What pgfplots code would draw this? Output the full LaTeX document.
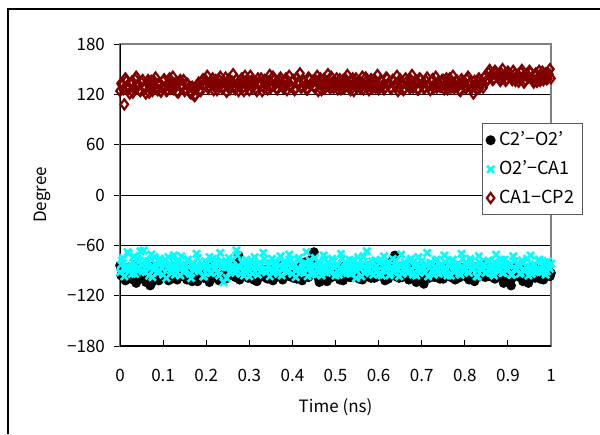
\documentclass[border=0pt]{standalone}
\usepackage{fontspec}
\setmainfont{Noto Sans CJK JP}
\usepackage{pgfplots}
\usepackage{pgfplotstable}
\pgfplotsset{compat=1.18}
\definecolor{darkred}{RGB}{128,0,0}
\definecolor{aqua}{RGB}{0,255,255}

% t = time (ns); a = C2'-O2', b = O2'-CA1, c = CA1-CP2 (degree)
\pgfplotstableread{
t a b c
0.000 -84 -92 124
0.005 -93 -78 131
0.010 -88 -97 108
0.015 -97 -85 136
0.020 -86 -70 127
0.025 -91 -89 133
0.030 -101 -81 122
0.035 -83 -94 138
0.040 -95 -76 129
0.045 -89 -88 125
0.050 -99 -83 134
0.055 -87 -66 128
0.060 -104 -92 121
0.065 -92 -79 137
0.070 -108 -87 130
0.075 -85 -98 124
0.080 -96 -74 135
0.085 -90 -86 127
0.090 -102 -91 132
0.095 -88 -80 123
0.100 -94 -95 136
0.105 -84 -77 129
0.110 -97 -88 125
0.115 -91 -83 139
0.120 -100 -93 131
0.125 -86 -72 126
0.130 -93 -87 134
0.135 -98 -81 122
0.140 -89 -96 137
0.145 -95 -84 130
0.150 -87 -90 124
0.155 -101 -78 133
0.160 -92 -86 128
0.165 -85 -99 121
0.170 -96 -82 126
0.175 -90 -89 119
0.180 -103 -75 131
0.185 -88 -91 125
0.190 -94 -84 135
0.195 -99 -97 129
0.200 -86 -80 136
0.205 -92 -87 127
0.210 -97 -93 133
0.215 -84 -76 139
0.220 -95 -89 130
0.225 -90 -83 125
0.230 -102 -96 137
0.235 -88 -79 132
0.240 -93 -104 128
0.245 -100 -86 140
0.250 -87 -81 131
0.255 -95 -92 126
0.260 -83 -77 135
0.265 -91 -88 129
0.270 -79 -66 138
0.275 -72 -85 124
0.280 -98 -94 133
0.285 -89 -80 128
0.290 -94 -90 142
0.295 -86 -83 130
0.300 -97 -97 125
0.305 -90 -78 136
0.310 -101 -87 131
0.315 -85 -82 127
0.320 -93 -95 139
0.325 -88 -84 133
0.330 -96 -89 124
0.335 -91 -76 137
0.340 -99 -92 130
0.345 -87 -85 135
0.350 -94 -81 128
0.355 -102 -93 141
0.360 -89 -79 132
0.365 -95 -88 126
0.370 -84 -84 137
0.375 -92 -96 131
0.380 -98 -80 127
0.385 -90 -87 139
0.390 -86 -91 133
0.395 -96 -77 129
0.400 -93 -94 136
0.405 -88 -83 125
0.410 -100 -89 140
0.415 -91 -75 132
0.420 -85 -92 128
0.425 -97 -86 137
0.430 -80 -81 131
0.435 -94 -97 126
0.440 -89 -78 138
0.445 -76 -88 133
0.450 -68 -84 129
0.455 -92 -95 136
0.460 -99 -80 124
0.465 -87 -90 139
0.470 -95 -85 131
0.475 -90 -77 127
0.480 -103 -93 135
0.485 -86 -82 130
0.490 -93 -89 141
0.495 -97 -79 128
0.500 -88 -96 134
0.505 -94 -84 126
0.510 -101 -88 138
0.515 -90 -76 132
0.520 -85 -92 127
0.525 -96 -81 137
0.530 -91 -87 130
0.535 -98 -94 125
0.540 -87 -78 139
0.545 -93 -86 133
0.550 -89 -91 128
0.555 -100 -83 136
0.560 -86 -97 131
0.565 -95 -73 126
0.570 -92 -89 140
0.575 -97 -82 129
0.580 -84 -93 135
0.585 -90 -79 127
0.590 -99 -88 138
0.595 -93 -85 132
0.600 -87 -95 126
0.605 -96 -77 137
0.610 -91 -90 131
0.615 -102 -84 128
0.620 -88 -81 139
0.625 -94 -96 133
0.630 -82 -86 127
0.635 -75 -92 136
0.640 -97 -78 130
0.645 -90 -89 124
0.650 -85 -83 138
0.655 -98 -94 132
0.660 -92 -80 127
0.665 -89 -87 135
0.670 -101 -91 130
0.675 -86 -76 137
0.680 -95 -95 128
0.685 -91 -85 133
0.690 -99 -82 126
0.695 -87 -93 139
0.700 -94 -79 131
0.705 -106 -88 127
0.710 -89 -84 136
0.715 -96 -97 130
0.720 -85 -81 125
0.725 -92 -90 138
0.730 -98 -86 132
0.735 -90 -77 128
0.740 -87 -94 134
0.745 -95 -83 129
0.750 -100 -89 137
0.755 -88 -80 131
0.760 -93 -96 126
0.765 -86 -85 139
0.770 -97 -78 133
0.775 -91 -92 127
0.780 -84 -87 136
0.785 -99 -82 130
0.790 -92 -95 124
0.795 -89 -76 135
0.800 -96 -90 129
0.805 -87 -84 138
0.810 -101 -93 132
0.815 -90 -79 127
0.820 -94 -88 121
0.825 -86 -85 131
0.830 -98 -97 136
0.835 -91 -81 128
0.840 -88 -89 134
0.845 -95 -83 140
0.850 -83 -92 135
0.855 -97 -78 146
0.860 -90 -87 141
0.865 -93 -94 137
0.870 -100 -80 148
0.875 -87 -86 143
0.880 -94 -91 138
0.885 -91 -77 145
0.890 -105 -93 140
0.895 -86 -84 136
0.900 -96 -89 147
0.905 -89 -82 142
0.910 -99 -95 137
0.915 -92 -79 144
0.920 -85 -88 139
0.925 -97 -85 135
0.930 -90 -93 146
0.935 -103 -81 141
0.940 -88 -90 137
0.945 -94 -76 143
0.950 -91 -86 148
0.955 -98 -94 139
0.960 -86 -83 134
0.965 -95 -89 145
0.970 -89 -78 140
0.975 -100 -92 136
0.980 -92 -85 147
0.985 -87 -80 142
0.990 -96 -91 138
0.995 -90 -86 144
1.000 -93 -82 139
0.0025 -96 -83 133
0.0075 -89 -75 126
0.0125 -102 -90 139
0.0175 -91 -68 130
0.0225 -98 -86 121
0.0275 -87 -94 135
0.0325 -93 -73 128
0.0375 -105 -88 141
0.0425 -90 -80 131
0.0475 -97 -67 124
0.0525 -86 -91 137
0.0575 -94 -78 127
0.0625 -100 -85 134
0.0675 -91 -96 122
0.0725 -106 -71 136
0.0775 -95 -89 129
0.0825 -88 -82 140
0.0875 -99 -93 125
0.0925 -93 -76 133
0.0975 -84 -87 128
0.1025 -97 -81 138
0.1075 -91 -99 124
0.1125 -102 -74 132
0.1175 -88 -90 127
0.1225 -95 -84 141
0.1275 -90 -95 130
0.1325 -101 -79 123
0.1375 -86 -88 135
0.1425 -96 -73 128
0.1475 -92 -92 137
0.1525 -98 -83 126
0.1575 -89 -77 132
0.1625 -95 -94 122
0.1675 -103 -81 129
0.1725 -87 -87 118
0.1775 -93 -70 127
0.1825 -99 -90 134
0.1875 -91 -85 124
0.1925 -86 -97 138
0.1975 -97 -79 131
0.2025 -92 -88 142
0.2075 -104 -74 129
0.2125 -89 -93 135
0.2175 -95 -83 125
0.2225 -99 -78 137
0.2275 -87 -91 131
0.2325 -94 -69 141
0.2375 -91 -86 127
0.2425 -100 -81 134
0.2475 -88 -99 123
0.2525 -96 -75 138
0.2575 -92 -88 130
0.2625 -85 -84 144
0.2675 -98 -93 126
0.2725 -90 -72 133
0.2775 -101 -87 129
0.2825 -87 -80 139
0.2875 -95 -96 124
0.2925 -92 -77 136
0.2975 -99 -89 131
0.3025 -88 -83 142
0.3075 -94 -94 128
0.3125 -90 -74 135
0.3175 -103 -86 124
0.3225 -86 -81 133
0.3275 -97 -92 139
0.3325 -93 -69 129
0.3375 -89 -88 136
0.3425 -100 -84 126
0.3475 -91 -97 143
0.3525 -96 -76 131
0.3575 -87 -90 137
0.3625 -98 -82 127
0.3675 -92 -94 134
0.3725 -88 -73 140
0.3775 -101 -87 129
0.3825 -94 -80 135
0.3875 -90 -92 125
0.3925 -97 -71 142
0.3975 -86 -86 130
0.4025 -99 -84 137
0.4075 -92 -98 127
0.4125 -89 -77 133
0.4175 -96 -89 145
0.4225 -102 -82 129
0.4275 -88 -93 135
0.4325 -93 -68 126
0.4375 -98 -87 140
0.4425 -85 -80 131
0.4475 -71 -94 136
0.4525 -95 -75 128
0.4575 -91 -89 142
0.4625 -104 -84 133
0.4675 -89 -96 125
0.4725 -96 -72 138
0.4775 -92 -88 130
0.4825 -87 -81 144
0.4875 -99 -92 127
0.4925 -93 -76 134
0.4975 -90 -87 129
0.5025 -97 -83 139
0.5075 -86 -95 132
0.5125 -95 -70 126
0.5175 -102 -89 137
0.5225 -91 -80 131
0.5275 -88 -93 143
0.5325 -98 -77 128
0.5375 -92 -87 135
0.5425 -96 -84 124
0.5475 -89 -99 139
0.5525 -94 -74 133
0.5575 -87 -88 127
0.5625 -101 -82 141
0.5675 -90 -93 130
0.5725 -95 -67 136
0.5775 -88 -89 125
0.5825 -99 -85 138
0.5875 -92 -95 132
0.5925 -86 -78 128
0.5975 -97 -90 143
0.6025 -93 -81 129
0.6075 -89 -96 135
0.6125 -96 -73 126
0.6175 -91 -88 140
0.6225 -100 -84 133
0.6275 -87 -94 127
0.6325 -78 -76 137
0.6375 -72 -90 131
0.6425 -94 -83 142
0.6475 -99 -97 128
0.6525 -91 -71 134
0.6575 -87 -88 125
0.6625 -96 -82 139
0.6675 -93 -93 132
0.6725 -89 -79 127
0.6775 -98 -89 143
0.6825 -92 -85 130
0.6875 -104 -96 136
0.6925 -90 -74 126
0.6975 -96 -88 138
0.7025 -101 -83 133
0.7075 -88 -92 128
0.7125 -93 -69 140
0.7175 -99 -87 131
0.7225 -90 -81 136
0.7275 -86 -95 127
0.7325 -95 -78 141
0.7375 -92 -90 134
0.7425 -100 -85 129
0.7475 -89 -93 137
0.7525 -96 -72 126
0.7575 -91 -88 139
0.7625 -87 -82 133
0.7675 -98 -96 128
0.7725 -93 -77 142
0.7775 -101 -89 131
0.7825 -90 -84 136
0.7875 -86 -94 125
0.7925 -97 -70 138
0.7975 -92 -87 132
0.8025 -88 -81 127
0.8075 -99 -92 141
0.8125 -94 -76 133
0.8175 -90 -89 129
0.8225 -103 -84 136
0.8275 -89 -97 126
0.8325 -95 -73 139
0.8375 -92 -88 133
0.8425 -87 -83 128
0.8475 -98 -93 142
0.8525 -91 -79 138
0.8575 -94 -90 149
0.8625 -88 -85 143
0.8675 -99 -96 139
0.8725 -92 -71 146
0.8775 -86 -88 141
0.8825 -97 -82 136
0.8875 -90 -93 150
0.8925 -101 -77 143
0.8975 -93 -89 138
0.9025 -89 -84 145
0.9075 -108 -95 140
0.9125 -95 -73 148
0.9175 -91 -88 136
0.9225 -87 -82 143
0.9275 -98 -94 139
0.9325 -92 -78 149
0.9375 -96 -90 134
0.9425 -90 -85 144
0.9475 -105 -96 140
0.9525 -93 -72 146
0.9575 -88 -88 137
0.9625 -99 -83 143
0.9675 -91 -92 135
0.9725 -95 -77 148
0.9775 -89 -89 141
0.9825 -101 -84 137
0.9875 -92 -95 145
0.9925 -87 -79 139
0.9975 -97 -88 150
}\dihedral

\begin{document}
\begin{tikzpicture}
\useasboundingbox (0,0) rectangle (300pt,217pt);
\draw[line width=0.6pt] (4pt,0) -- (4pt,212.5pt) -- (300pt,212.5pt);
\begin{axis}[
    at={(60pt,44pt)}, anchor=south west,
    scale only axis,
    width=215.5pt, height=151pt,
    xmin=0, xmax=1, ymin=-180, ymax=180,
    xtick={0,0.1,0.2,0.3,0.4,0.5,0.6,0.7,0.8,0.9,1},
    xticklabels={0,0.1,0.2,0.3,0.4,0.5,0.6,0.7,0.8,0.9,1},
    ytick={-180,-120,-60,0,60,120,180},
    yticklabels={−180,−120,−60,0,60,120,180},
    xtick pos=bottom, ytick pos=left,
    tick align=inside,
    major tick length=3pt,
    tick style={black, line width=0.5pt},
    ytick style={xshift=-3pt},
    tick label style={font=\fontsize{8.5}{10}\selectfont},
    xticklabel style={yshift=-8pt},
    yticklabel style={xshift=-4pt},
    ymajorgrids,
    grid style={black, line width=0.5pt},
    axis line style={draw=gray, line width=1pt},
    xlabel={Time (ns)},
    ylabel={Degree},
    label style={font=\fontsize{8.5}{10}\selectfont},
    xlabel style={at={(rel axis cs:0.5,-0.202)}, anchor=center},
    ylabel style={at={(rel axis cs:-0.181,0.5)}, anchor=center},
    legend style={at={(rel axis cs:1.074,0.738)}, anchor=north east,
        draw=gray!70!black, line width=0.6pt, fill=white,
        font=\fontsize{9}{11}\selectfont,
        inner xsep=2pt, inner ysep=2pt,
        row sep=2pt,
        legend cell align=left},
    legend image code/.code={\draw[mark repeat=2,mark phase=2] plot coordinates {(0cm,0cm) (0.15cm,0cm) (0.3cm,0cm)};},
]
\addplot[only marks, mark=*, mark size=2.2pt, black] table[x=t, y=a] {\dihedral};
\addlegendentry{C2’−O2’}
\addplot[only marks, mark=x, mark size=2.5pt, aqua, line width=1.3pt] table[x=t, y=b] {\dihedral};
\addlegendentry{O2’−CA1}
\addplot[only marks, mark=diamond, mark size=2.5pt, darkred, line width=1.1pt] table[x=t, y=c] {\dihedral};
\addlegendentry{CA1−CP2}
\draw[black, line width=0.7pt] (rel axis cs:0,1) -- (rel axis cs:0,0) -- (rel axis cs:1,0);
\end{axis}
\end{tikzpicture}
\end{document}
